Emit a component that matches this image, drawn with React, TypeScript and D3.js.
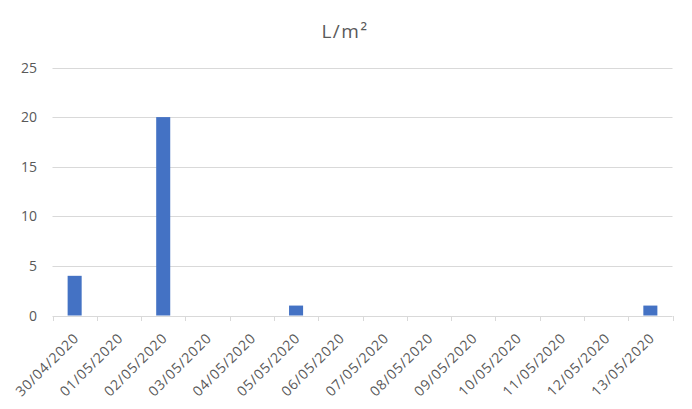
import React from "react";
import * as d3 from "d3";

const categories = [
  "30/04/2020", "01/05/2020", "02/05/2020", "03/05/2020", "04/05/2020",
  "05/05/2020", "06/05/2020", "07/05/2020", "08/05/2020", "09/05/2020",
  "10/05/2020", "11/05/2020", "12/05/2020", "13/05/2020",
];
const values = [4, 0, 20, 0, 0, 1, 0, 0, 0, 0, 0, 0, 0, 1];
const yTicks = [0, 5, 10, 15, 20, 25];
const title = "L/m²";

const W = 692;
const H = 409;
const FONT = "'Open Sans', 'Liberation Sans', sans-serif";
const TEXT = "#595959";
const GRID = "#d9d9d9";
const BAR = "#4472C4";

export default function App() {
  const x = d3.scaleBand<string>().domain(categories).range([52.5, 672.5]).padding(0);
  const y = d3.scaleLinear().domain([0, 25]).range([315.5, 67.5]);
  const bw = x.bandwidth();
  const barW = bw * 0.317;
  const boundaries = categories.map((c) => x(c) as number).concat([672.5]);

  return (
    <svg width={W} height={H} style={{ position: "absolute", left: 0, top: 0, background: "#fff" }}>
      <text x={345} y={37.5} textAnchor="middle" fontFamily={FONT} fontSize={19} letterSpacing={1.5} fill={TEXT}>
        {title}
      </text>
      {yTicks.map((t) => (
        <g key={t}>
          <line x1={52.5} x2={672.5} y1={Math.round(y(t)) + 0.5} y2={Math.round(y(t)) + 0.5} stroke={GRID} strokeWidth={1} />
          <text x={37} y={y(t) + 5} textAnchor="end" fontFamily={FONT} fontSize={14} fill={TEXT}>
            {t}
          </text>
        </g>
      ))}
      {boundaries.map((b, i) => (
        <line key={i} x1={Math.round(b) + 0.5} x2={Math.round(b) + 0.5} y1={316} y2={321} stroke={GRID} strokeWidth={1} />
      ))}
      {categories.map((c, i) => {
        const cx = (x(c) as number) + bw / 2;
        return (
          <g key={c}>
            {values[i] > 0 && (
              <rect x={cx - barW / 2} y={y(values[i])} width={barW} height={y(0) - y(values[i])} fill={BAR} />
            )}
            <text
              transform={`translate(${cx + 5},${339}) rotate(-45)`}
              textAnchor="end"
              fontFamily={FONT}
              fontSize={14}
              letterSpacing={0.8}
              fill={TEXT}
            >
              {c}
            </text>
          </g>
        );
      })}
    </svg>
  );
}
